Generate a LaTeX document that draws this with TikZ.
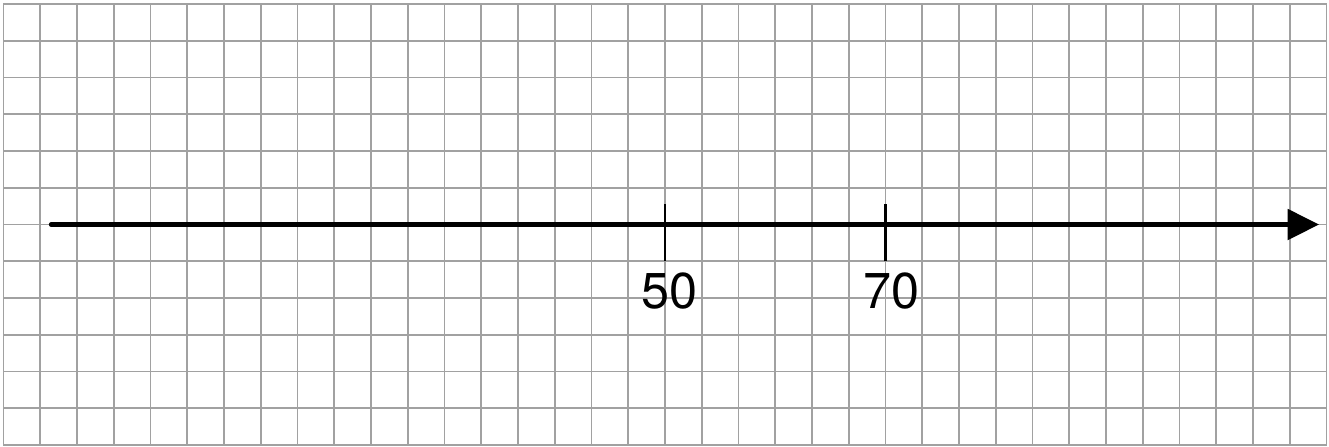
\documentclass[tikz,border=0pt]{standalone}
\usepackage{fontspec}
\setmainfont{TeX Gyre Heros}
\usetikzlibrary{arrows.meta}
\begin{document}
\begin{tikzpicture}[x=0.5cm,y=0.5cm,
  gridline/.style={draw=black!37,line width=0.65pt},
  axisline/.style={line width=1.9pt,line cap=round,-{Triangle[length=0.43cm,width=0.41cm]}},
  tickline/.style={line width=0.8pt},
  ticklabel/.style={inner sep=0pt,font=\fontsize{19.5}{20}\selectfont}]
\useasboundingbox (-0.095,-0.027) rectangle (36.068,12.109);
\draw[gridline,step=1] (0,0) grid (36,12);
\coordinate (s) at (1.3,6);
\coordinate (e) at (35.8,6);
\draw[axisline] (s) -- (e);
\draw[tickline] (18,5) -- (18,6.55);
\draw[tickline] (24,5) -- (24,6.55);
\node[ticklabel] (l50) at (18.13,4.19) {50};
\node[ticklabel] (l70) at (24.15,4.19) {70};
\end{tikzpicture}
\end{document}
